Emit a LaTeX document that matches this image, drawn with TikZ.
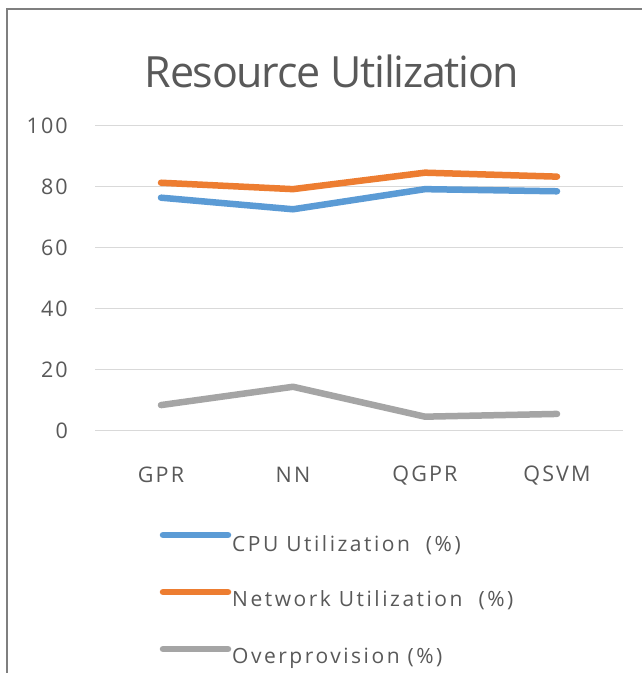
\documentclass[tikz,border=0pt]{standalone}
\usepackage{fontspec}
\setmainfont{Open Sans}[LetterSpace=10]
\newfontfamily\legendfont{Open Sans}[LetterSpace=12]
\newfontfamily\titlefont{Open Sans}[LetterSpace=-3]
\definecolor{cpublue}{HTML}{5B9BD5}
\definecolor{netorange}{HTML}{ED7D31}
\definecolor{overgray}{HTML}{A5A5A5}
\definecolor{gridgray}{HTML}{D9D9D9}
\definecolor{labelgray}{HTML}{595959}
\definecolor{framegray}{HTML}{7F7F7F}
\tikzset{
  gridline/.style={draw=gridgray, line width=1.5pt},
  series/.style={line width=6.5pt, line join=round, line cap=round},
  ticklabel/.style={text=labelgray, font=\fontsize{21.5}{24}\selectfont, inner sep=0pt},
  legendtext/.style={text=labelgray, font=\legendfont\fontsize{21}{24}\selectfont, inner sep=0pt, anchor=base west},
}
\begin{document}
\begin{tikzpicture}[x=1pt, y=-1pt]
  % canvas
  \useasboundingbox (0,0) rectangle (642,673);
  \fill[white] (0,0) rectangle (642,673);
  % frame: top and left edges only
  \coordinate (frameTL) at (7,9);
  \coordinate (frameTR) at (642,9);
  \coordinate (frameBL) at (7,673);
  \draw[framegray, line width=1.6pt] (frameTR) -- (frameTL) -- (frameBL);

  % title
  \node[text=labelgray, font=\titlefont\fontsize{43}{48}\selectfont, anchor=base, inner sep=0pt]
    (title) at (332,87) {Resource Utilization};

  % plot area: value v is drawn at y = 430.7 - 3.05 v
  \begin{scope}[shift={(0,430.7)}, y=3.05pt]
    % horizontal grid and value labels
    \foreach \v in {0,20,...,100} {
      \coordinate (gl\v) at (95,\v);
      \coordinate (gr\v) at (623,\v);
      \draw[gridline] (gl\v) -- (gr\v);
      \node[ticklabel, anchor=east] (ylab\v) at (68,\v) {\v};
    }
    % category labels
    \foreach \name/\xc in {GPR/161, NN/293, QGPR/425, QSVM/557} {
      \node[ticklabel, anchor=center] (cat\name) at (\xc,-14.6) {\name};
    }
    % data points
    \coordinate (c1) at (161,76.4);
    \coordinate (c2) at (293,72.6);
    \coordinate (c3) at (425,79.2);
    \coordinate (c4) at (557,78.5);
    \coordinate (n1) at (161,81.3);
    \coordinate (n2) at (293,79.2);
    \coordinate (n3) at (425,84.6);
    \coordinate (n4) at (557,83.3);
    \coordinate (o1) at (161,8.4);
    \coordinate (o2) at (293,14.4);
    \coordinate (o3) at (425,4.6);
    \coordinate (o4) at (557,5.5);
    % series
    \draw[series, cpublue] (c1) -- (c2) -- (c3) -- (c4);
    \draw[series, netorange] (n1) -- (n2) -- (n3) -- (n4);
    \draw[series, overgray] (o1) -- (o2) -- (o3) -- (o4);
  \end{scope}

  % legend
  \coordinate (lk1a) at (163,535);  \coordinate (lk1b) at (228,535);
  \coordinate (lk2a) at (163,592);  \coordinate (lk2b) at (228,592);
  \coordinate (lk3a) at (163,649);  \coordinate (lk3b) at (228,649);
  \draw[series, cpublue] (lk1a) -- (lk1b);
  \draw[series, netorange] (lk2a) -- (lk2b);
  \draw[series, overgray] (lk3a) -- (lk3b);
  \node[legendtext] (leg1) at (232,551.5) {CPU Utilization\ \ (\%)};
  \node[legendtext] (leg2) at (232,606) {Network Utilization\ \ (\%)};
  \node[legendtext] (leg3) at (232,663) {Overprovision (\%)};
\end{tikzpicture}
\end{document}
